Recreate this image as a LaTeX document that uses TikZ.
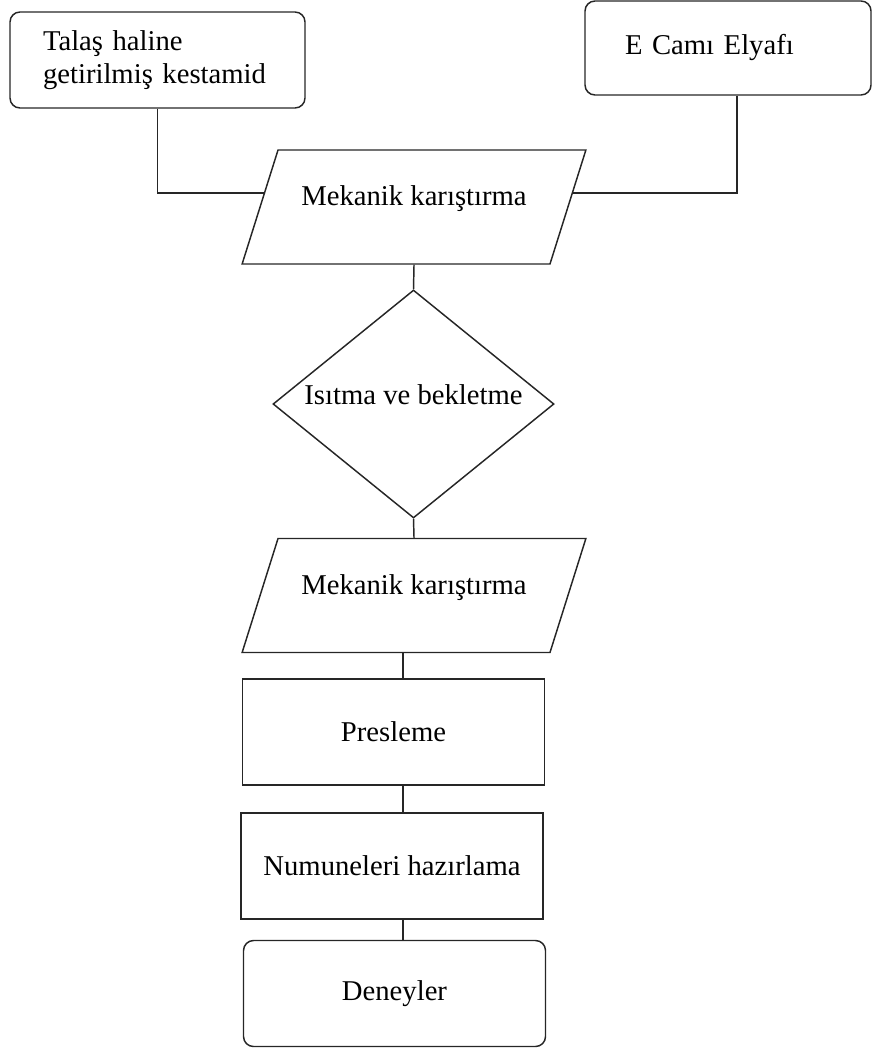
\documentclass[tikz,border=0pt]{standalone}
\usepackage{fontspec}
\setmainfont{Liberation Serif}
\usetikzlibrary{shapes.geometric,calc}
\begin{document}
\begin{tikzpicture}
[ x=0.75pt, y=-0.75pt, line width=1.1pt, draw=black!85
, font=\fontsize{21.5}{24.75}\selectfont
, roundbox/.style={rectangle, rounded corners=7.5pt, draw}
, process/.style={rectangle, draw, minimum width=226.5pt, minimum height=79.5pt}
, mixing/.style={trapezium, trapezium left angle=59, trapezium right angle=121, trapezium stretches=true, draw, text depth=17pt, minimum width=258pt, minimum height=85.5pt}
, decision/.style={diamond, draw, inner sep=0pt, shape aspect=1.23, text depth=14pt, minimum width=210.75pt, minimum height=171pt}
]
\useasboundingbox (0,0) rectangle (872,1049);
% Inputs:
\node (talas) [roundbox, minimum width=221.25pt, minimum height=72pt, text width=171.75pt, align=left] at (157.5,60) {Talaş haline\\ getirilmiş kestamid};
\node (ecam) [roundbox, minimum width=214.5pt, minimum height=70.5pt, text width=154.5pt, align=left] at (728,48) {E Camı Elyafı};
% Main chain:
\node (mix1) [mixing] at (414,207) {Mekanik karıştırma};
\node (heat) [decision] at (413.5,404) {Isıtma ve bekletme};
\node (mix2) [mixing] at (414,595.5) {Mekanik karıştırma};
\node (press) [process] at (393.5,732) {Presleme};
\node (prep) [process] at (392,866) {Numuneleri hazırlama};
\node (tests) [process, rounded corners=7.5pt] at (394.5,993.5) {Deneyler};
% Joints on the slanted sides:
\coordinate (inL) at ($(mix1.bottom left corner)!0.623!(mix1.top left corner)$);
\coordinate (inR) at ($(mix1.bottom right corner)!0.623!(mix1.top right corner)$);
\coordinate (spine) at (403,0);
\draw (talas.south) |- (inL);
\draw ([xshift=6.75pt]ecam.south) |- (inR);
\draw (mix1.south) -- (heat.north);
\draw (heat.south) -- (mix2.north);
\draw (mix2.south -| spine) -- (press.north -| spine);
\draw (press.south -| spine) -- (prep.north -| spine);
\draw (prep.south -| spine) -- (tests.north -| spine);
\end{tikzpicture}
\end{document}
